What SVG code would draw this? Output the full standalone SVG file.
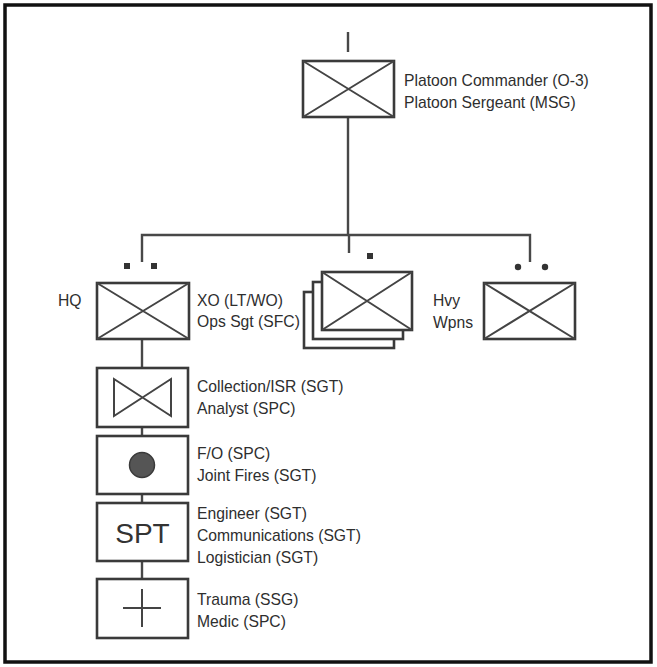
<svg xmlns="http://www.w3.org/2000/svg" width="657" height="667" viewBox="0 0 657 667">
<defs>
<style>
.frame{fill:#fff;stroke:#111;stroke-width:3.5}
.box{fill:#fff;stroke:#3a3a3a;stroke-width:2.6}
.diag{stroke:#444;stroke-width:2;fill:none}
.line{stroke:#484848;stroke-width:2.4;fill:none}
.lbl{font-family:"Liberation Sans",Arial,sans-serif;font-size:15.7px;fill:#2e2e2e}
.big{font-family:"Liberation Sans",Arial,sans-serif;font-size:28px;fill:#333}
.dot{fill:#333}
</style>
</defs>
<rect x="0" y="0" width="657" height="667" fill="#fff"/>
<rect class="frame" x="5" y="5" width="646" height="657"/>
<g id="connectors">
<line class="line" x1="348" y1="32" x2="348" y2="52"/>
<line class="line" x1="348" y1="117" x2="348" y2="235"/>
<polyline class="line" points="142,262 142,235 530,235 530,262"/>
<line class="line" x1="349" y1="235" x2="349" y2="253"/>
<line class="line" x1="142" y1="339" x2="142" y2="368"/>
<line class="line" x1="142" y1="427" x2="142" y2="436"/>
<line class="line" x1="142" y1="494" x2="142" y2="503"/>
<line class="line" x1="142" y1="561" x2="142" y2="579"/>
</g>
<g id="platoon">
<rect class="box" x="303" y="61" width="91" height="56"/>
<path class="diag" d="M303,61 L394,117 M394,61 L303,117"/>
<text class="lbl" x="404" y="86">Platoon Commander (O-3)</text>
<text class="lbl" x="404" y="108">Platoon Sergeant (MSG)</text>
</g>
<g id="hq">
<rect class="dot" x="124" y="263" width="6" height="6"/>
<rect class="dot" x="151" y="263" width="6" height="6"/>
<rect class="box" x="97" y="283" width="92" height="56"/>
<path class="diag" d="M97,283 L189,339 M189,283 L97,339"/>
<text class="lbl" x="58" y="306">HQ</text>
<text class="lbl" x="197" y="306">XO (LT/WO)</text>
<text class="lbl" x="197" y="327">Ops Sgt (SFC)</text>
</g>
<g id="squads">
<rect class="dot" x="367" y="253" width="6" height="6"/>
<rect class="box" x="304" y="292" width="90" height="56"/>
<rect class="box" x="313" y="282" width="90" height="57"/>
<rect class="box" x="322" y="272" width="90" height="58"/>
<path class="diag" d="M322,272 L412,330 M412,272 L322,330"/>
</g>
<g id="hvy-wpns">
<circle class="dot" cx="518" cy="267" r="3.2"/>
<circle class="dot" cx="545" cy="267" r="3.2"/>
<rect class="box" x="484" y="283" width="91" height="56"/>
<path class="diag" d="M484,283 L575,339 M575,283 L484,339"/>
<text class="lbl" x="433" y="306">Hvy</text>
<text class="lbl" x="433" y="328">Wpns</text>
</g>
<g id="collection">
<rect class="box" x="97" y="368" width="91" height="59"/>
<path class="diag" d="M114,379 L114,416 L171,379 L171,416 Z"/>
<text class="lbl" x="197" y="392">Collection/ISR (SGT)</text>
<text class="lbl" x="197" y="414">Analyst (SPC)</text>
</g>
<g id="fires">
<rect class="box" x="97" y="436" width="91" height="58"/>
<circle cx="142" cy="465" r="12.5" fill="#555" stroke="#3a3a3a" stroke-width="1.5"/>
<text class="lbl" x="197" y="459">F/O (SPC)</text>
<text class="lbl" x="197" y="481">Joint Fires (SGT)</text>
</g>
<g id="support">
<rect class="box" x="97" y="503" width="91" height="58"/>
<text class="big" x="142.5" y="543" text-anchor="middle">SPT</text>
<text class="lbl" x="197" y="519">Engineer (SGT)</text>
<text class="lbl" x="197" y="541">Communications (SGT)</text>
<text class="lbl" x="197" y="563">Logistician (SGT)</text>
</g>
<g id="medical">
<rect class="box" x="97" y="579" width="91" height="59"/>
<path class="diag" d="M123,608 L161,608 M142,589 L142,627"/>
<text class="lbl" x="197" y="605">Trauma (SSG)</text>
<text class="lbl" x="197" y="627">Medic (SPC)</text>
</g>
</svg>
